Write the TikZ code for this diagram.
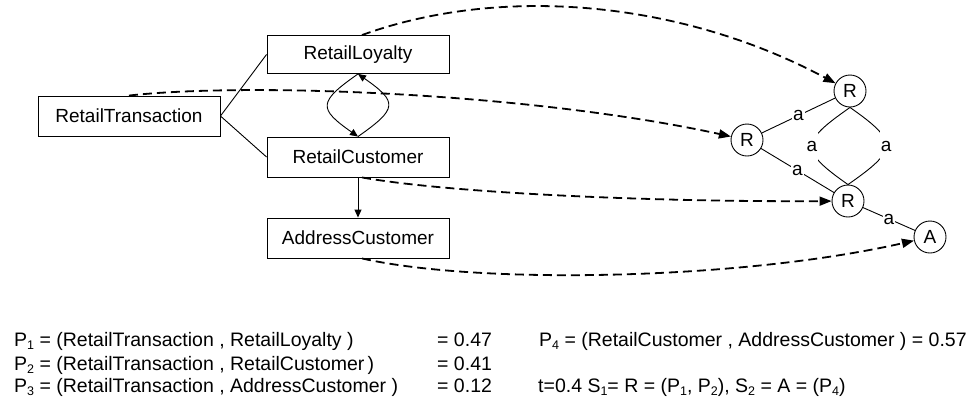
\documentclass[tikz,border=0pt]{standalone}
\usepackage{fontspec}
\setmainfont{Liberation Sans}
\usetikzlibrary{arrows.meta}
\newcommand\psub[1]{\raisebox{-3pt}{\fontsize{12.5}{12.5}\selectfont #1}}

\begin{document}
\begin{tikzpicture}[x=1pt,y=-1pt,
  font=\fontsize{19}{22}\selectfont,
  entity/.style={draw, line width=0.9pt, minimum width=182pt, minimum height=40pt, inner sep=0pt},
  vtx/.style={draw, circle, line width=0.9pt, minimum size=32pt, inner sep=0pt},
  thinline/.style={line width=0.9pt},
  solidarrow/.style={thinline, -{Triangle[length=8pt,width=7pt]}},
  maparrow/.style={line width=1.8pt, dash pattern=on 9pt off 5pt, -{Triangle[length=12pt,width=9pt]}},
  elabel/.style={fill=white, inner sep=1pt},
  clabel/.style={fill=white, inner sep=1pt, minimum height=30pt},
  txt/.style={anchor=base west, inner sep=0pt, font=\fontsize{19.5}{22}\selectfont}
]
\useasboundingbox (0,0) rectangle (969,400);

% schema entities
\node[entity] (RT) at (129,116) {RetailTransaction};
\node[entity, minimum height=38pt] (RL) at (358,54.5) {RetailLoyalty};
\node[entity] (RC) at (358,157) {RetailCustomer};
\node[entity] (AC) at (358,238) {AddressCustomer};

% pattern graph
\node[vtx] (Rt) at (850,91) {R};
\node[vtx] (Rl) at (747,140) {R};
\node[vtx] (Rb) at (848,201) {R};
\node[vtx] (A) at (930,237) {A};

% schema relations
\draw[thinline] (RT.east) -- (RL.west);
\draw[thinline] (RT.east) -- (RC.west);
\draw[solidarrow] (RL.south) to[out=215,in=145,looseness=2] (RC.north);
\draw[solidarrow] (RC.north) to[out=35,in=-35,looseness=2] (RL.south);
\draw[solidarrow] (RC.south) -- (AC.north);

% graph edges
\draw[thinline] (Rl) -- node[elabel]{a} (Rt);
\draw[thinline] (Rl) -- node[elabel]{a} (Rb);
\draw[thinline] (Rb) -- node[elabel]{a} (A);
\draw[thinline] (Rt.south) to[out=215,in=145,looseness=2] node[clabel]{a} (Rb.north);
\draw[thinline] (Rt.south) to[out=-35,in=35,looseness=2] node[clabel]{a} (Rb.north);

% mappings
\draw[maparrow] ([xshift=4pt]RL.north) .. controls (500,-15) and (680,0) .. (Rt);
\draw[maparrow] (RT.north) .. controls (250,82) and (531,93) .. (Rl);
\draw[maparrow] ([xshift=4pt]RC.south) .. controls (450,193) and (650,202) .. (Rb);
\draw[maparrow] ([xshift=4pt]AC.south) .. controls (480,285) and (740,280) .. (A);

% scores
\node[txt] (p1) at (14,346) {P\psub{1} = (RetailTransaction , RetailLoyalty )};
\node[txt] (p2) at (14,370) {P\psub{2} = (RetailTransaction , RetailCustomer\,)};
\node[txt] (p3) at (14,392) {P\psub{3} = (RetailTransaction , AddressCustomer )};
\node[txt] (v1) at (437,346) {= 0.47};
\node[txt] (v2) at (437,370) {= 0.41};
\node[txt] (v3) at (437,392) {= 0.12};
\node[txt] (p4) at (539,346) {P\psub{4} = (RetailCustomer , AddressCustomer ) = 0.57};
\node[txt] (sol) at (538,392) {t=0.4 S\psub{1}= R = (P\psub{1}, P\psub{2}), S\psub{2} = A = (P\psub{4})};
\end{tikzpicture}
\end{document}
